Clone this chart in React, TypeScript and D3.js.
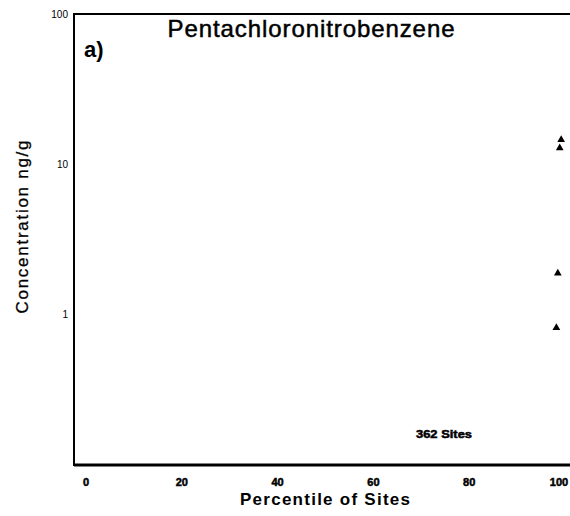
import * as d3 from 'd3';

const W = 570;
const H = 516;

// readings
const percentiles = [99.2, 98.9, 98.5, 98.2];
const concentrations = [14.5, 12.8, 1.87, 0.81];
const xTicks = [0, 20, 40, 60, 80, 100];
const yTicks = [1, 10, 100];
const title = 'Pentachloronitrobenzene';
const panel = 'a)';
const siteNote = '362 Sites';

export default function App() {
  const x = d3.scaleLinear().domain([0, 100]).range([86, 565]);
  const y = d3.scaleLog().domain([0.1, 100]).range([464, 14]);
  const tri = d3.symbol().type(d3.symbolTriangle).size(26)();

  return (
    <svg width={W} height={H} style={{ position: 'absolute', left: 0, top: 0, background: '#fff' }}
      fontFamily="Liberation Sans, Arial, sans-serif">
      {/* frame */}
      <line x1={74} x2={74} y1={13} y2={466} stroke="#000" strokeWidth={2} />
      <line x1={74} x2={W} y1={14} y2={14} stroke="#000" strokeWidth={2} />
      <line x1={74} x2={W} y1={465} y2={465} stroke="#000" strokeWidth={3} />

      {yTicks.map(t => (
        <text key={t} x={68} y={y(t)} dy="0.35em" textAnchor="end" fontSize={10}>{t}</text>
      ))}
      {xTicks.map(t => (
        <text key={t} x={Math.min(x(t), W - 11)} y={486} textAnchor="middle" fontSize={11} fontWeight="bold"
          stroke="#000" strokeWidth={0.5}>{t}</text>
      ))}

      {percentiles.map((p, i) => (
        <path key={i} d={tri ?? undefined} transform={`translate(${x(p)},${y(concentrations[i])})`} fill="#000" />
      ))}

      <text x={311} y={37} textAnchor="middle" fontSize={24} textLength={287} lengthAdjust="spacing"
        stroke="#000" strokeWidth={0.5}>{title}</text>
      <text x={84} y={57} fontSize={22} fontWeight="bold">{panel}</text>
      <text x={444} y={438} textAnchor="middle" fontSize={11} fontWeight="bold" textLength={56}
        lengthAdjust="spacingAndGlyphs" stroke="#000" strokeWidth={0.5}>{siteNote}</text>

      <text x={325} y={505} textAnchor="middle" fontSize={17} fontWeight="bold" textLength={170} lengthAdjust="spacing">Percentile of Sites</text>
      <text transform="translate(28,227) rotate(-90)" textAnchor="middle" fontSize={17} textLength={173}
        lengthAdjust="spacing" stroke="#000" strokeWidth={0.3}>Concentration ng/g</text>
    </svg>
  );
}
